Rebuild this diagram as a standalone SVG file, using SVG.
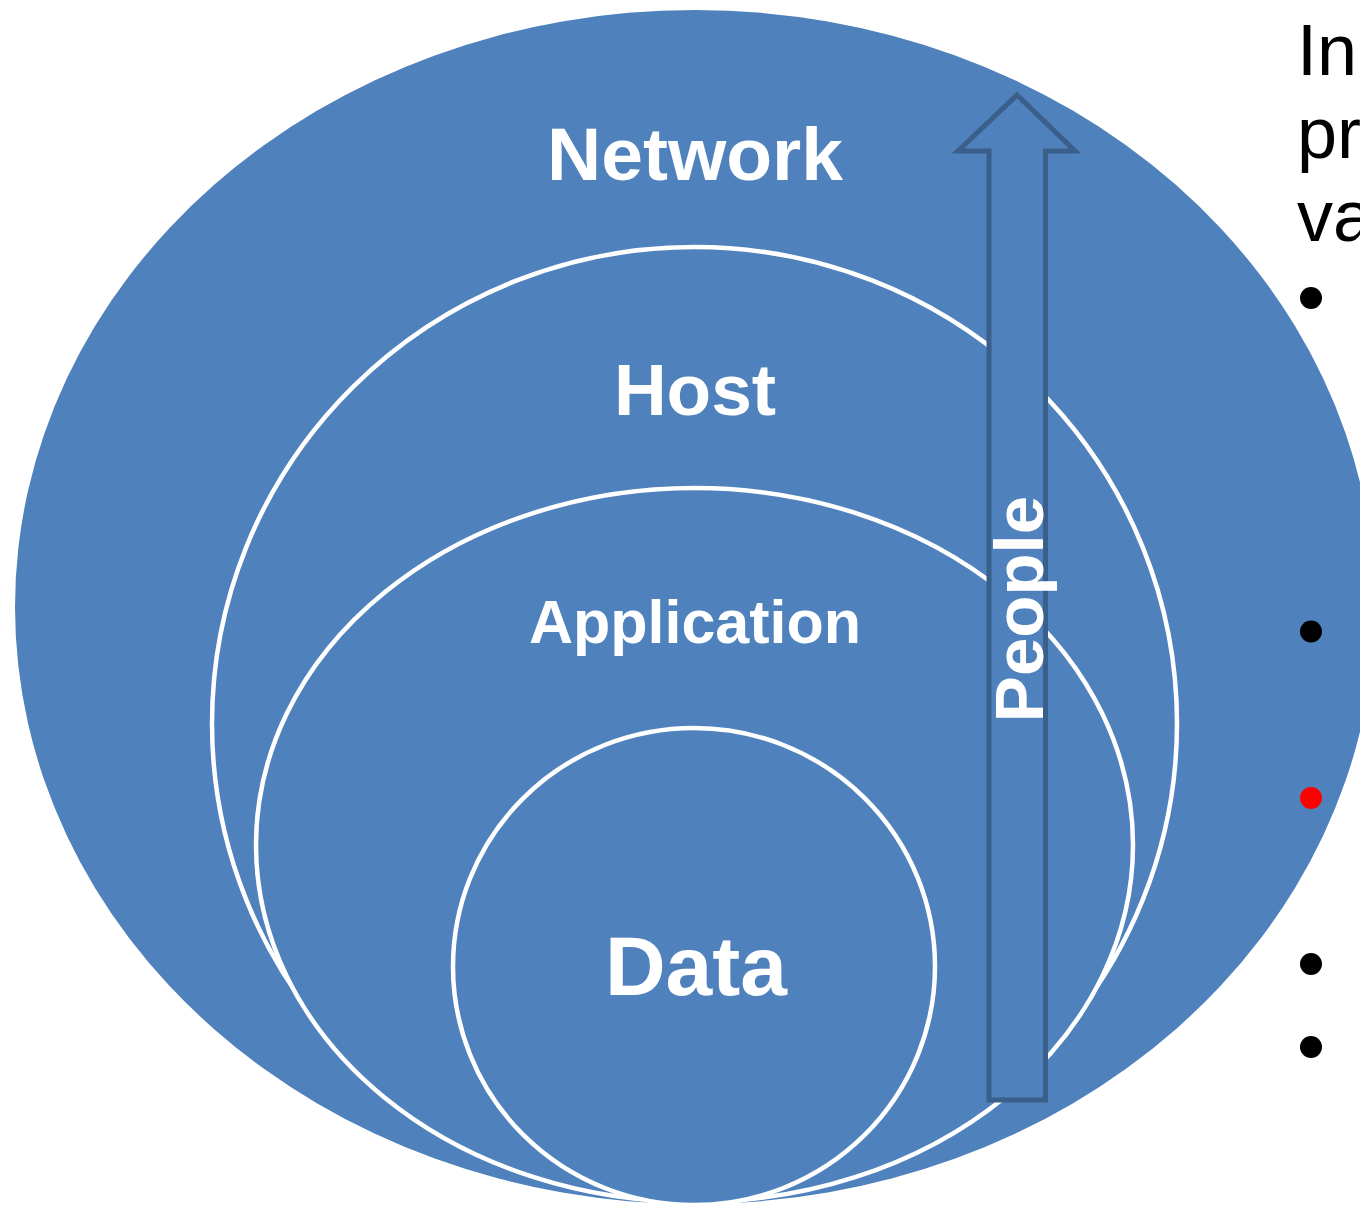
<svg xmlns="http://www.w3.org/2000/svg" width="1360" height="1206" viewBox="0 0 1360 1206">
<style>
.ring{fill:#4F81BD;stroke:#FFFFFF;stroke-width:4.5}
.lbl{font-family:"Liberation Sans",Arial,sans-serif;font-weight:bold;fill:#FFFFFF;text-anchor:middle}
.side{font-family:"Liberation Sans",Arial,sans-serif;font-size:72px;fill:#000000}
</style>
<rect width="1360" height="1206" fill="#FFFFFF"/>
<g id="network">
<ellipse cx="695" cy="607" rx="680" ry="597" fill="#4F81BD"/>
<text class="lbl" x="695" y="180" font-size="75">Network</text>
</g>
<g id="host">
<ellipse class="ring" cx="694.5" cy="723.5" rx="482.5" ry="476.5"/>
<text class="lbl" x="695" y="415" font-size="73">Host</text>
</g>
<g id="application">
<ellipse class="ring" cx="694.5" cy="845" rx="438.5" ry="357"/>
<text class="lbl" x="695" y="643" font-size="61">Application</text>
</g>
<g id="data">
<ellipse class="ring" cx="694" cy="966.5" rx="241" ry="238.5"/>
<text class="lbl" x="696" y="995" font-size="84">Data</text>
</g>
<g id="connectors">
<g id="people">
<polygon points="989,1100 1045.5,1100 1045.5,151 1075,151 1017,95 958,151 989,151" fill="#4F81BD" stroke="#3A5F8B" stroke-width="5" stroke-linejoin="miter"/>
<text class="lbl" transform="translate(1043,609) rotate(-90)" x="0" y="0" font-size="69">People</text>
</g>
</g>
<g id="sidetext">
<text class="side" x="1297" y="75">In</text>
<text class="side" x="1297" y="158">pr</text>
<text class="side" x="1297" y="241">va</text>
<circle cx="1311" cy="298" r="11" fill="#000000"/>
<circle cx="1311" cy="631.5" r="11" fill="#000000"/>
<circle cx="1311" cy="798" r="11" fill="#FF0000"/>
<circle cx="1311" cy="964" r="11" fill="#000000"/>
<circle cx="1311" cy="1047" r="11" fill="#000000"/>
</g>
</svg>
